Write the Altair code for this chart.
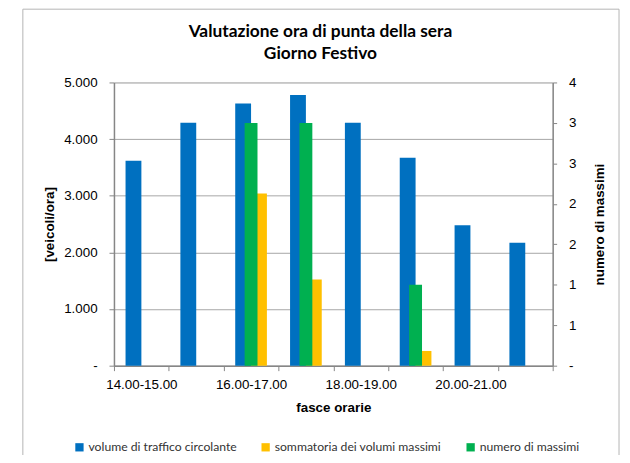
import json
import altair as alt
import pandas as pd

categories = ["14.00-15.00", "15.00-16.00", "16.00-17.00", "17.00-18.00",
              "18.00-19.00", "19.00-20.00", "20.00-21.00", "21.00-22.00"]
volume = [3620, 4290, 4630, 4780, 4290, 3670, 2480, 2170]
sommatoria = [0, 0, 3040, 1520, 0, 260, 0, 0]
massimi = [0, 0, 3, 3, 0, 1, 0, 0]
series = ["volume di traffico circolante", "sommatoria dei volumi massimi", "numero di massimi"]
colors = ["#0070C0", "#FFC000", "#00B050"]
left_ticks = [0, 1000, 2000, 3000, 4000, 5000]
right_ticks = [0, 0.5, 1, 1.5, 2, 2.5, 3, 3.5]

FONT = "Lato"

prim = pd.DataFrame({
    "fascia": categories * 2,
    "serie": [series[0]] * len(categories) + [series[1]] * len(categories),
    "valore": volume + sommatoria,
})
sec = pd.DataFrame({"fascia": categories, "serie": series[2], "massimi": massimi})
frame_df = pd.DataFrame({"k": [0]})

x_enc = alt.X(
    "fascia:N", sort=categories,
    scale=alt.Scale(domain=categories, paddingInner=0, paddingOuter=0),
    axis=alt.Axis(
        title="fasce orarie", tickBand="extent", labelAngle=0,
        labelExpr="indexof(" + json.dumps(categories).replace('"', "'") + ", datum.value) % 2 == 0 ? datum.label : ''",
        labelFontSize=13.5, labelPadding=7, titlePadding=10, tickSize=5,
        titleFontSize=13.5,
        domainColor="#868686", tickColor="#868686", domainWidth=1.5,
    ),
)
color_enc = alt.Color(
    "serie:N",
    scale=alt.Scale(domain=series, range=colors),
    legend=alt.Legend(
        title=None, orient="none", direction="horizontal",
        legendX=-41, legendY=362, symbolType="square", symbolSize=70,
        symbolStrokeWidth=0, labelFontSize=12.3, columnPadding=23,
        labelOffset=3, labelColor="#333333", labelFont=FONT, labelLimit=400,
    ),
)

bars = alt.Chart(prim).mark_bar().encode(
    x=x_enc,
    xOffset=alt.XOffset("serie:N", scale=alt.Scale(domain=series[:2], paddingInner=0, paddingOuter=0.731)),
    y=alt.Y(
        "valore:Q", scale=alt.Scale(domain=[0, 5000], nice=False),
        axis=alt.Axis(
            title="[veicoli/ora]", orient="left", values=left_ticks, grid=True,
            gridColor="#a6a6a6", tickSize=5, labelPadding=12, titlePadding=7,
            labelExpr="datum.value == 0 ? '-' : replace(format(datum.value, ','), ',', '.')",
            domainColor="#868686", tickColor="#868686", domainWidth=1.5,
            labelFontSize=13.5, titleFontSize=13.5,
        ),
    ),
    color=color_enc,
)

green = alt.Chart(sec).mark_bar(size=13).encode(
    x=x_enc,
    y=alt.Y(
        "massimi:Q", scale=alt.Scale(domain=[0, 3.5], nice=False),
        axis=alt.Axis(
            title="numero di massimi", orient="right", values=right_ticks, grid=False,
            tickSize=4, labelPadding=12, titlePadding=31, titleAngle=270,
            labelExpr="datum.value == 0 ? '-' : format(round(datum.value), 'd')",
            domainColor="#868686", tickColor="#868686", domainWidth=1.5,
            labelFontSize=13.5, titleFontSize=13.5,
        ),
    ),
    color=color_enc,
)

frame = alt.Chart(frame_df).mark_rect(fillOpacity=0, stroke="#b4b4b4", strokeWidth=1).encode(
    x=alt.value(-92), x2=alt.value(510), y=alt.value(-74), y2=alt.value(400),
)

chart = alt.layer(frame, bars, green).resolve_scale(y="independent").properties(
    width=443, height=286,
    autosize=alt.AutoSizeParams(type="none"),
    padding={"left": 107, "top": 73, "right": 70, "bottom": 88},
    title=alt.TitleParams(
        ["Valutazione ora di punta della sera", "Giorno Festivo"],
        anchor="middle", fontSize=17.5, fontWeight="bold", font=FONT,
        lineHeight=22, dx=-13, dy=62, offset=8, color="#000000",
    ),
).configure_view(stroke=None).configure_axis(
    labelFont=FONT, titleFont=FONT, labelColor="#333333", titleColor="#000000",
    titleFontSize=13, titleFontWeight="bold",
).configure(background="white")

chart.save("out.html", embed_options={"renderer": "svg", "actions": False})
